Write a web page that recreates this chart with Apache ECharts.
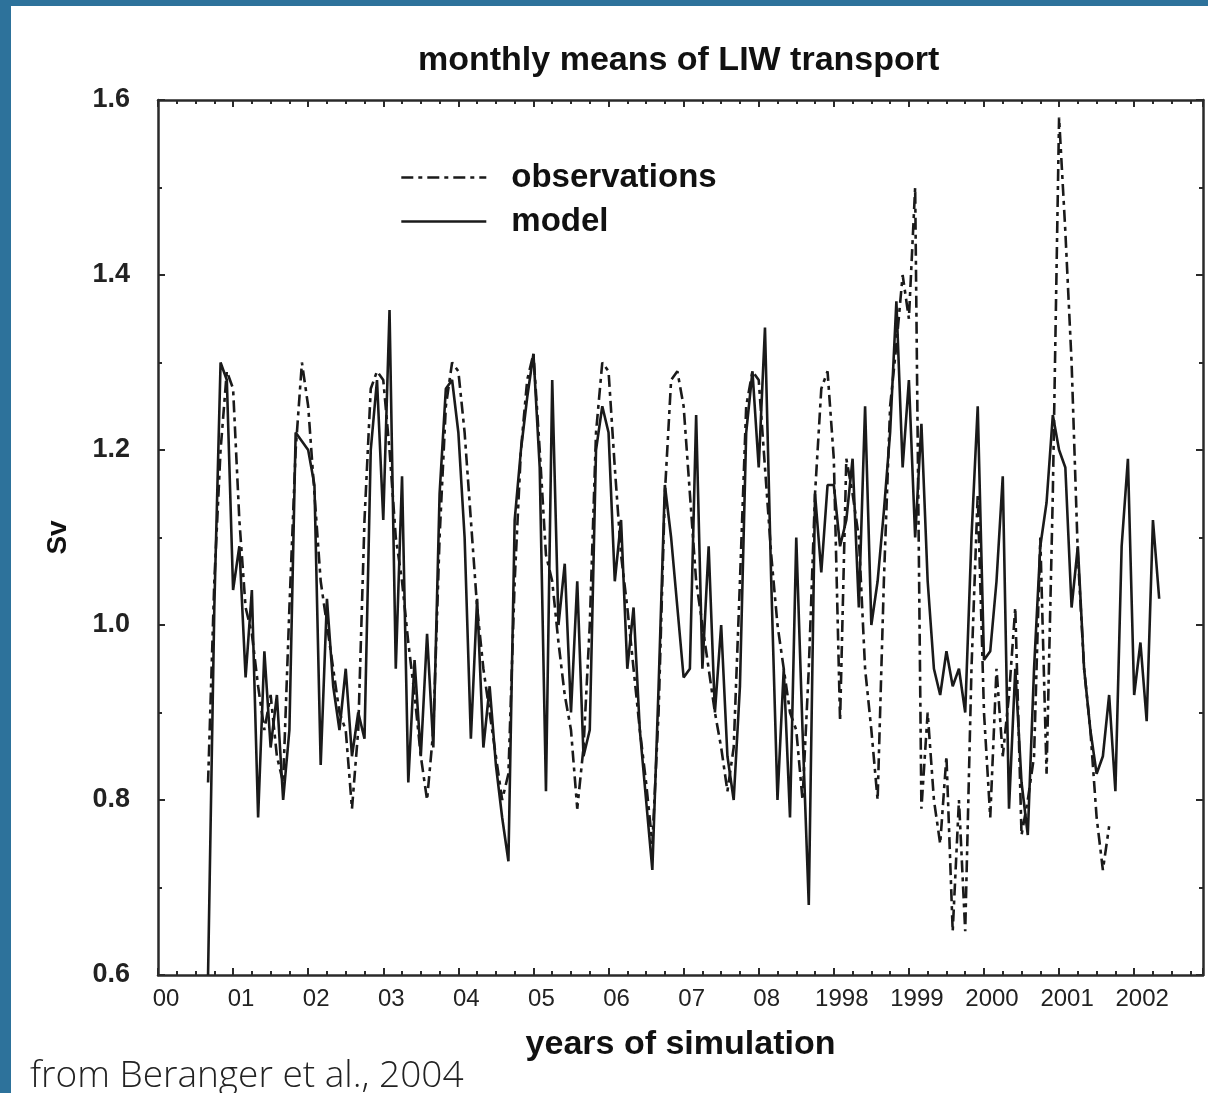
<!DOCTYPE html>
<html>
<head>
<meta charset="utf-8">
<script src="https://cdn.jsdelivr.net/npm/echarts@6/dist/echarts.min.js"></script>
<style>
  html, body { margin: 0; padding: 0; width: 1208px; height: 1093px; overflow: hidden; background: #2d729b; }
  #chart { position: absolute; left: 11px; top: 6px; width: 1197px; height: 1087px; background: #ffffff; }
</style>
</head>
<body>
<div id="chart"></div>
<script>
// Monthly LIW transport (Sv). Month index 0 = start of simulation year "00".
const xTickLabels = ['00', '01', '02', '03', '04', '05', '06', '07', '08', '1998', '1999', '2000', '2001', '2002'];
const yTickValues = [0.6, 0.8, 1.0, 1.2, 1.4, 1.6];

const modelStartMonth = 8;
const modelValues = [
  0.60, 1.02, 1.30, 1.28,
  1.04, 1.09, 0.94, 1.04, 0.78, 0.97, 0.86, 0.92, 0.80, 0.88, 1.22, 1.21,
  1.20, 1.16, 0.84, 1.03, 0.93, 0.88, 0.95, 0.85, 0.90, 0.87, 1.20, 1.28,
  1.12, 1.36, 0.95, 1.17, 0.82, 0.96, 0.85, 0.99, 0.86, 1.15, 1.27, 1.28,
  1.22, 1.10, 0.87, 1.03, 0.86, 0.93, 0.84, 0.78, 0.73, 1.12, 1.20, 1.26,
  1.31, 1.18, 0.81, 1.28, 1.00, 1.07, 0.90, 1.05, 0.85, 0.88, 1.20, 1.25,
  1.22, 1.05, 1.12, 0.95, 1.02, 0.88, 0.80, 0.72, 0.93, 1.16, 1.10, 1.02,
  0.94, 0.95, 1.24, 0.95, 1.09, 0.90, 1.00, 0.85, 0.80, 0.93, 1.22, 1.29,
  1.18, 1.34, 1.05, 0.80, 0.95, 0.78, 1.10, 0.88, 0.68, 1.15, 1.06, 1.16,
  1.16, 1.09, 1.12, 1.19, 1.02, 1.25, 1.00, 1.05, 1.13, 1.22, 1.37, 1.18,
  1.28, 1.10, 1.23, 1.05, 0.95, 0.92, 0.97, 0.93, 0.95, 0.90, 1.10, 1.25,
  0.96, 0.97, 1.05, 1.17, 0.79, 0.95, 0.82, 0.76, 0.95, 1.09, 1.14, 1.24,
  1.20, 1.18, 1.02, 1.09, 0.95, 0.88, 0.83, 0.85, 0.92, 0.81, 1.09, 1.19,
  0.92, 0.98, 0.89, 1.12, 1.03
];

const obsStartMonth = 8;
const obsValues = [
  0.82, 1.05, 1.20, 1.29,
  1.27, 1.12, 1.02, 0.99, 0.93, 0.88, 0.92, 0.85, 0.82, 1.02, 1.20, 1.30,
  1.25, 1.15, 1.05, 1.00, 0.95, 0.90, 0.88, 0.79, 0.88, 1.12, 1.27, 1.29,
  1.28, 1.20, 1.10, 1.05, 0.98, 0.92, 0.85, 0.80, 0.88, 1.10, 1.25, 1.30,
  1.29, 1.22, 1.12, 1.02, 0.95, 0.90, 0.85, 0.80, 0.83, 1.05, 1.20, 1.28,
  1.31, 1.20, 1.08, 1.05, 0.98, 0.92, 0.88, 0.79, 0.86, 1.00, 1.22, 1.30,
  1.29, 1.18, 1.08, 1.02, 0.95, 0.88, 0.82, 0.75, 0.90, 1.15, 1.28, 1.29,
  1.25, 1.15, 1.05, 1.00, 0.95, 0.90, 0.86, 0.81, 0.86, 1.05, 1.25, 1.29,
  1.28, 1.18, 1.08, 1.00, 0.95, 0.90, 0.88, 0.80, 0.95, 1.15, 1.27, 1.29,
  1.19, 0.89, 1.19, 1.15, 1.10, 0.95, 0.88, 0.80, 1.05, 1.25, 1.32, 1.40,
  1.35, 1.50, 0.79, 0.90, 0.80, 0.75, 0.85, 0.65, 0.80, 0.65, 0.95, 1.15,
  0.90, 0.78, 0.95, 0.85, 0.92, 1.02, 0.76, 0.80, 0.85, 1.10, 0.83, 1.15,
  1.58, 1.45, 1.30, 1.08, 0.95, 0.88, 0.78, 0.72, 0.77
];

const axisMaxMonth = 167;

function toPairs(start, values) {
  return values.map((v, i) => [start + i, v]);
}

const ink = '#1a1a1a';
const axisColor = '#2a2a2a';
const figFont = '"Liberation Sans", Arial, sans-serif';

function xAxisCfg(pos, showLabels) {
  return {
    type: 'value', position: pos, min: 0, max: axisMaxMonth, interval: 12,
    axisLine: { show: true, onZero: false, lineStyle: { color: axisColor, width: 2.5 } },
    axisTick: { show: true, inside: true, length: 7, lineStyle: { color: axisColor, width: 2 } },
    minorTick: { show: true, splitNumber: 4, length: 4, lineStyle: { color: axisColor, width: 2 } },
    splitLine: { show: false },
    axisLabel: {
      show: showLabels, margin: 12, showMaxLabel: false,
      fontFamily: figFont, fontSize: 24, color: '#222', padding: [0, 0, 0, 16],
      formatter: v => (v % 12 === 0 && xTickLabels[v / 12] !== undefined) ? xTickLabels[v / 12] : ''
    },
    name: showLabels ? 'years of simulation' : '',
    nameLocation: 'middle', nameGap: 53,
    nameTextStyle: { fontFamily: figFont, fontSize: 34, fontWeight: 'bold', color: '#111' }
  };
}

function yAxisCfg(pos, showLabels) {
  return {
    type: 'value', position: pos, min: yTickValues[0], max: yTickValues[yTickValues.length - 1], interval: 0.2,
    axisLine: { show: true, onZero: false, lineStyle: { color: axisColor, width: 2.5 } },
    axisTick: { show: true, inside: true, length: 7, lineStyle: { color: axisColor, width: 2 } },
    minorTick: { show: true, splitNumber: 2, length: 4, lineStyle: { color: axisColor, width: 2 } },
    splitLine: { show: false },
    axisLabel: {
      show: showLabels, margin: 28,
      fontFamily: figFont, fontSize: 27, fontWeight: 'bold', color: '#222',
      formatter: v => v.toFixed(1)
    },
    name: showLabels ? 'Sv' : '',
    nameLocation: 'middle', nameRotate: 90, nameGap: 86,
    nameTextStyle: { fontFamily: figFont, fontSize: 28, fontWeight: 'bold', color: '#111' }
  };
}

const chart = echarts.init(document.getElementById('chart'), null, { renderer: 'canvas' });
chart.setOption({
  backgroundColor: '#ffffff',
  animation: false,
  title: [
    {
      text: 'monthly means of LIW transport', left: 407, top: 38, padding: 0,
      textStyle: { fontFamily: figFont, fontSize: 34, fontWeight: 'bold', color: '#111' }
    },
    {
      text: 'from Beranger et al., 2004', left: 19, top: 1052, padding: 0,
      textStyle: { fontFamily: '"Open Sans", sans-serif', fontSize: 37, fontWeight: 300, color: '#222' }
    }
  ],
  legend: {
    orient: 'vertical', left: 389, top: 155, padding: 0,
    itemWidth: 85, itemHeight: 20, itemGap: 11,
    data: ['observations', 'model'],
    itemStyle: { opacity: 0, borderWidth: 0 },
    lineStyle: { width: 2.6 },
    textStyle: { fontFamily: figFont, fontSize: 33, fontWeight: 'bold', color: '#111', padding: [0, 0, 0, 20] }
  },
  grid: { left: 147, top: 94, right: 5, bottom: 118, containLabel: false, outerBoundsMode: 'none' },
  xAxis: [xAxisCfg('bottom', true), xAxisCfg('top', false)],
  yAxis: [yAxisCfg('left', true), yAxisCfg('right', false)],
  series: [
    {
      name: 'observations', type: 'line', xAxisIndex: 0, yAxisIndex: 0,
      data: toPairs(obsStartMonth, obsValues),
      symbol: 'none', smooth: false,
      lineStyle: { color: ink, width: 2.6, type: [12, 5, 4, 5] },
      itemStyle: { color: ink }
    },
    {
      name: 'model', type: 'line', xAxisIndex: 0, yAxisIndex: 0,
      data: toPairs(modelStartMonth, modelValues),
      symbol: 'none', smooth: false,
      lineStyle: { color: ink, width: 2.6, type: 'solid' },
      itemStyle: { color: ink }
    }
  ]
});
</script>
</body>
</html>
